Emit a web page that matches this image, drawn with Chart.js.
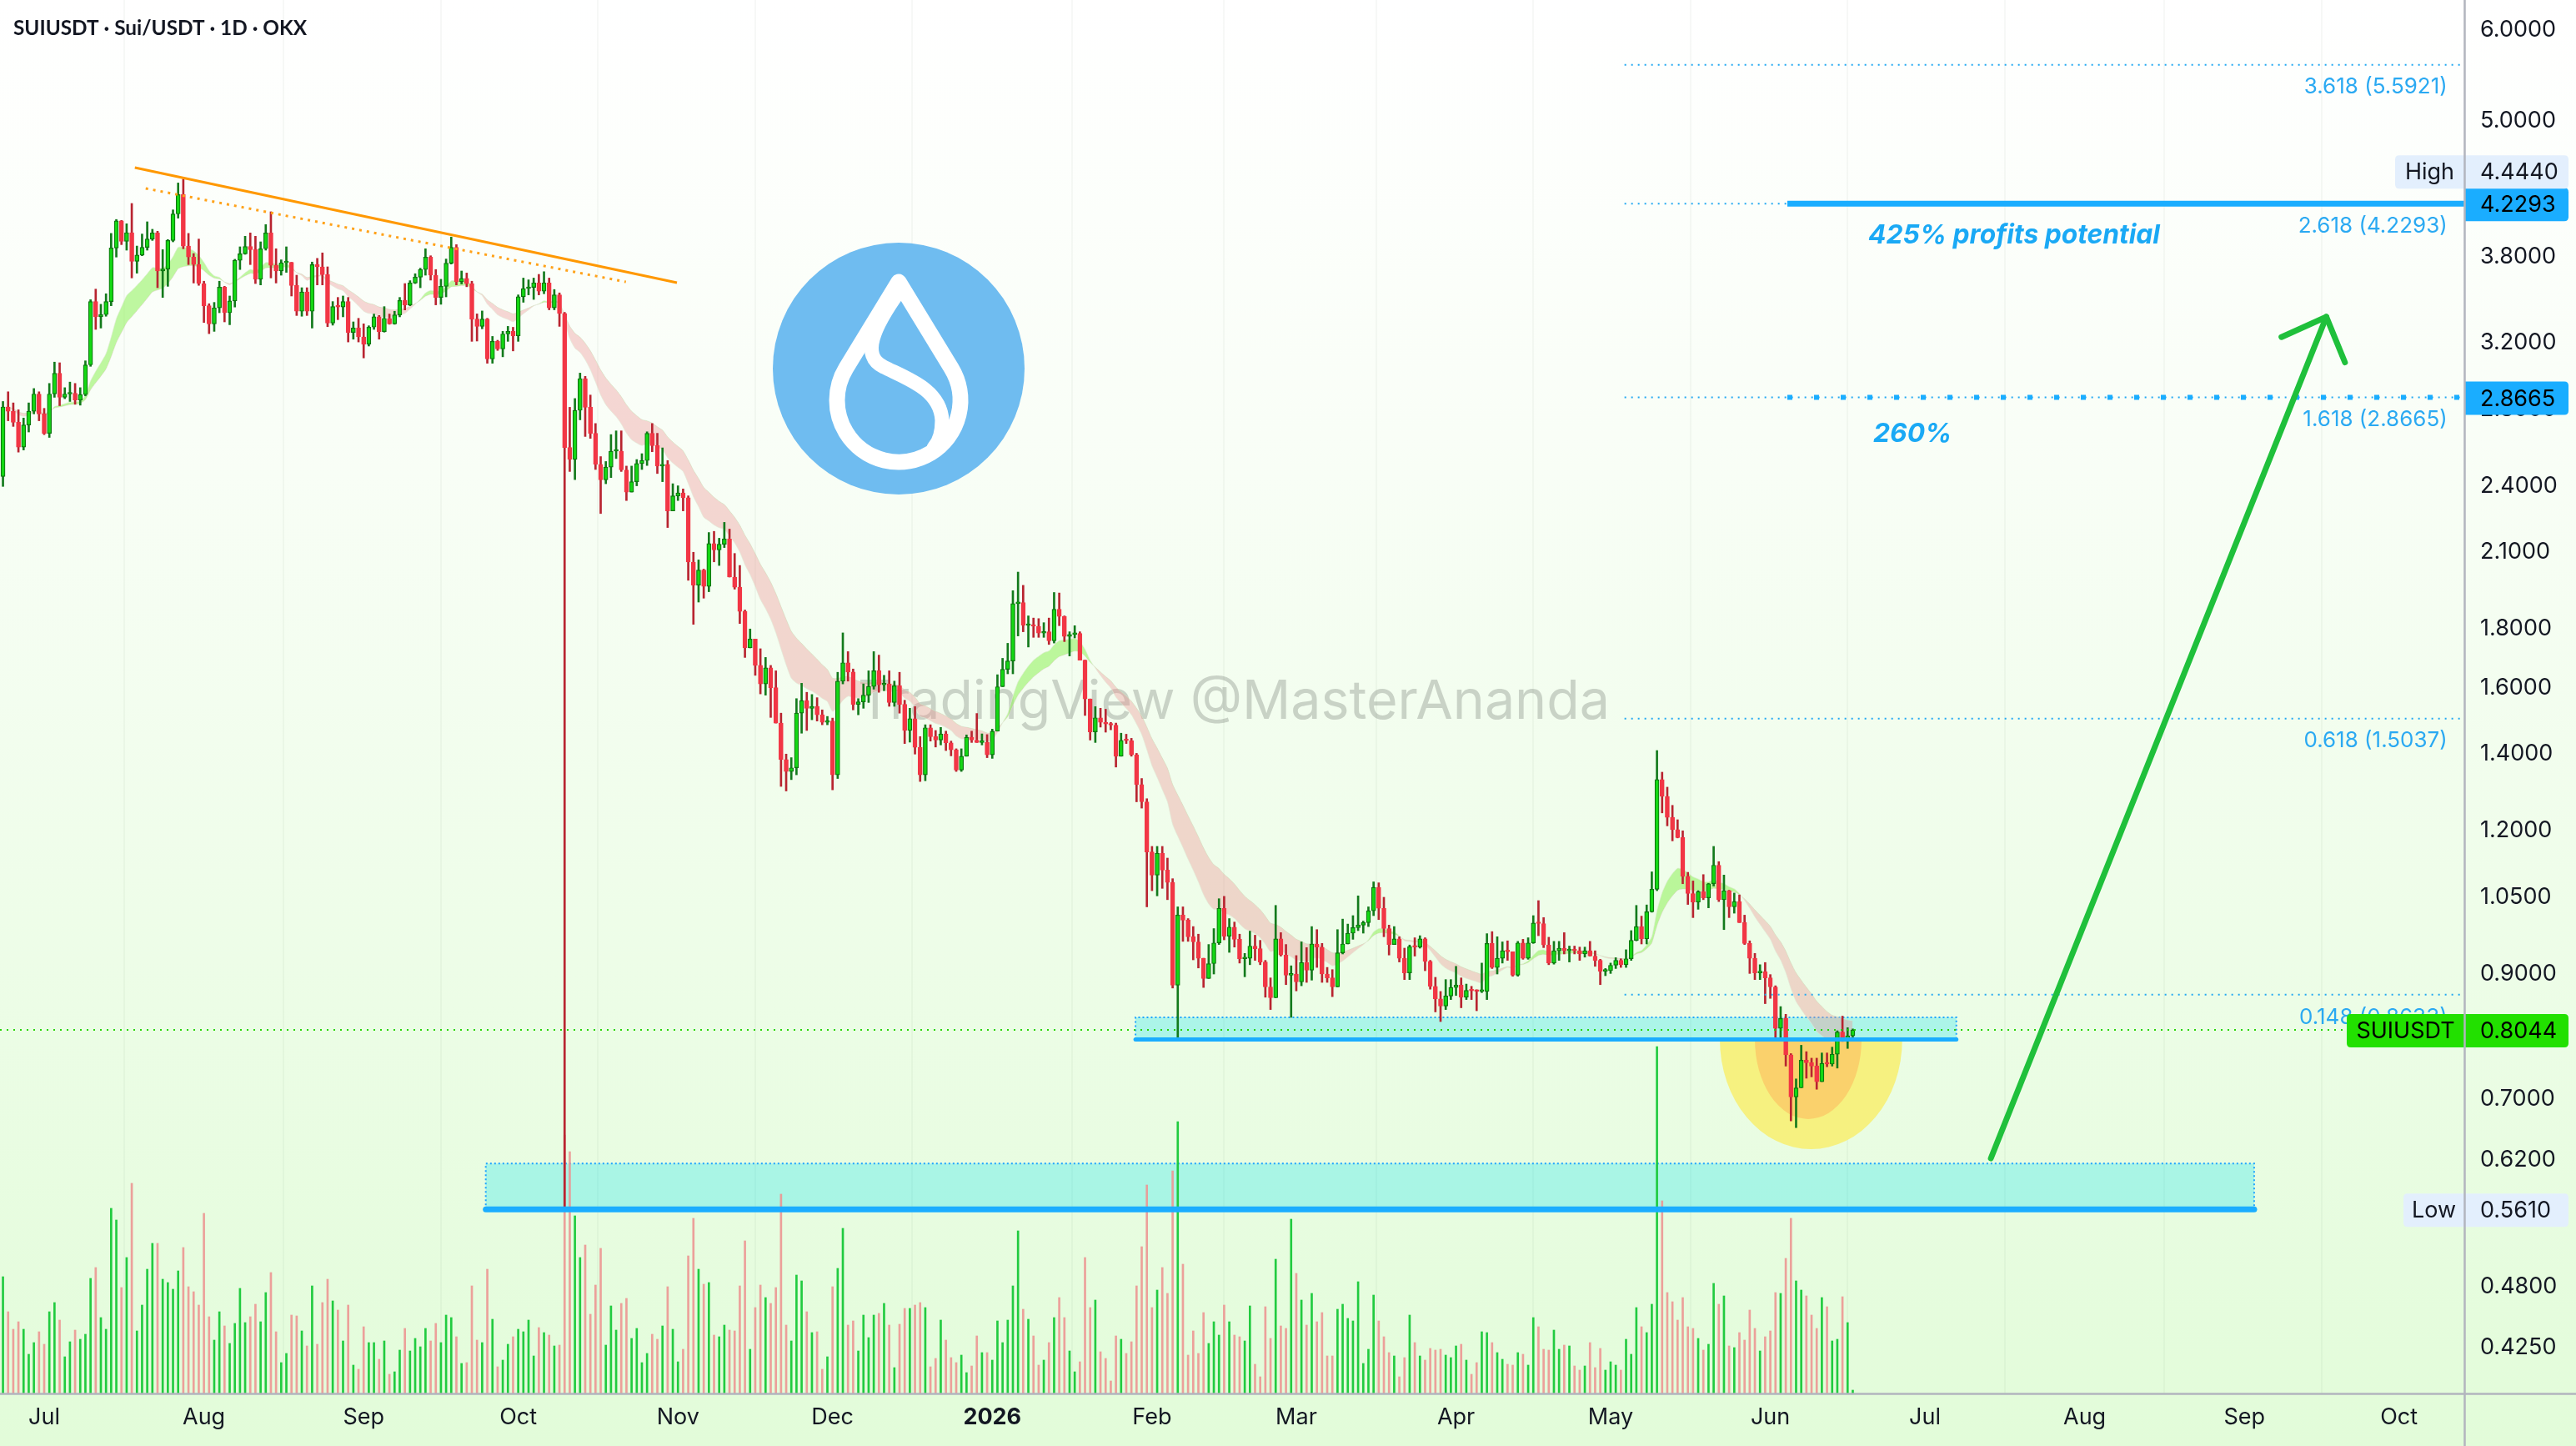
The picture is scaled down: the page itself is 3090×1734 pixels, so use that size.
<!DOCTYPE html>
<html>
<head>
<meta charset="utf-8">
<title>SUIUSDT · Sui/USDT · 1D · OKX</title>
<script src="https://cdn.jsdelivr.net/npm/chart.js@4.4.1/dist/chart.umd.min.js"></script>
<style>
html,body{margin:0;padding:0;overflow:hidden;background:#fff}
canvas{display:block}
</style>
</head>
<body>
<canvas id="chart" width="3090" height="1734" style="width:3090px;height:1734px"></canvas>
<script>
// ================= DATA =================
// day index 0 = 2025-07-01; first candle is 2025-06-23
const firstDay = -8;

const opens = [
2.445,2.812,2.788,2.727,2.594,2.712,2.788,2.886,2.773,2.667,
2.886,3.009,2.867,2.886,2.890,2.851,2.883,3.060,3.475,3.370,
3.385,3.475,3.870,4.086,3.922,3.991,3.768,3.815,3.875,3.940,
3.989,3.695,3.710,3.929,4.144,4.308,3.885,3.800,3.743,3.603,
3.446,3.323,3.431,3.577,3.398,3.479,3.775,3.825,3.881,3.857,
3.634,3.864,3.989,3.737,3.695,3.757,3.760,3.589,3.408,3.543,
3.408,3.743,3.726,3.668,3.328,3.440,3.437,3.475,3.266,3.295,
3.237,3.190,3.301,3.370,3.271,3.360,3.323,3.383,3.483,3.452,
3.607,3.650,3.706,3.800,3.664,3.504,3.583,3.753,3.875,3.616,
3.640,3.602,3.355,3.306,3.355,3.097,3.208,3.160,3.256,3.273,
3.244,3.509,3.567,3.575,3.608,3.549,3.608,3.431,3.522,3.393,
2.592,2.531,2.793,2.977,2.810,2.667,2.506,2.429,2.492,2.573,
2.573,2.478,2.370,2.420,2.510,2.525,2.667,2.602,2.497,2.506,
2.282,2.352,2.366,2.343,2.059,1.966,2.026,1.961,2.137,2.110,
2.134,2.157,1.998,1.958,1.865,1.733,1.764,1.673,1.612,1.665,
1.600,1.490,1.385,1.352,1.362,1.520,1.559,1.535,1.541,1.515,
1.492,1.496,1.343,1.621,1.682,1.651,1.547,1.555,1.576,1.604,
1.655,1.609,1.612,1.553,1.606,1.547,1.468,1.503,1.419,1.343,
1.476,1.450,1.440,1.458,1.432,1.412,1.356,1.394,1.448,1.440,
1.433,1.433,1.398,1.466,1.603,1.660,1.688,1.894,1.898,1.813,
1.815,1.810,1.785,1.790,1.758,1.873,1.846,1.773,1.780,1.784,
1.691,1.564,1.464,1.506,1.492,1.487,1.484,1.394,1.439,1.438,
1.398,1.317,1.272,1.150,1.098,1.147,1.109,1.082,0.880,1.013,
1.003,0.970,0.960,0.929,0.892,0.919,0.958,1.027,0.971,0.989,
0.965,0.928,0.929,0.952,0.947,0.922,0.877,0.858,0.966,0.935,
0.898,0.900,0.886,0.921,0.907,0.956,0.950,0.900,0.893,0.877,
0.939,0.956,0.977,0.988,0.993,0.998,1.022,1.071,1.027,0.986,
0.955,0.966,0.929,0.902,0.951,0.950,0.966,0.923,0.878,0.856,
0.844,0.861,0.876,0.880,0.859,0.871,0.870,0.869,0.869,0.957,
0.912,0.929,0.943,0.941,0.898,0.958,0.929,0.958,0.997,0.996,
0.954,0.920,0.943,0.948,0.943,0.946,0.943,0.937,0.943,0.933,
0.925,0.905,0.906,0.916,0.925,0.917,0.928,0.963,0.990,0.966,
1.020,1.067,1.330,1.286,1.233,1.203,1.184,1.095,1.058,1.040,
1.062,1.049,1.079,1.120,1.045,1.064,1.030,1.041,0.998,0.957,
0.929,0.902,0.904,0.893,0.877,0.807,0.823,0.765,0.703,0.716,
0.757,0.753,0.748,0.725,0.752,0.751,0.766,0.801,0.791,0.795
];

const highs = [
2.843,2.899,2.835,2.796,2.750,2.835,2.918,2.899,2.804,2.948,
3.077,3.073,2.923,2.956,2.948,2.923,3.085,3.488,3.563,3.456,
3.530,3.985,4.098,4.090,4.063,4.232,3.885,3.980,4.079,4.018,
4.002,3.857,3.936,4.178,4.410,4.444,3.985,3.827,3.940,3.620,
3.460,3.469,3.620,3.583,3.514,3.783,3.879,3.962,3.989,3.962,
3.918,4.056,4.162,3.864,3.779,3.879,3.760,3.664,3.573,3.573,
3.762,3.790,3.832,3.726,3.475,3.504,3.514,3.504,3.336,3.360,
3.323,3.310,3.389,3.379,3.440,3.389,3.408,3.504,3.603,3.624,
3.675,3.716,3.864,3.810,3.706,3.634,3.785,3.956,3.896,3.695,
3.680,3.620,3.390,3.410,3.360,3.240,3.215,3.273,3.306,3.300,
3.522,3.643,3.630,3.643,3.670,3.690,3.643,3.560,3.536,3.400,
2.810,2.860,3.010,2.990,2.880,2.720,2.545,2.520,2.660,2.680,
2.680,2.497,2.497,2.530,2.560,2.675,2.720,2.667,2.590,2.525,
2.410,2.400,2.385,2.352,2.100,2.068,2.030,2.185,2.190,2.160,
2.230,2.200,2.095,2.045,1.870,1.800,1.764,1.730,1.700,1.673,
1.655,1.520,1.400,1.390,1.565,1.614,1.585,1.578,1.568,1.530,
1.510,1.505,1.650,1.786,1.720,1.661,1.565,1.612,1.655,1.720,
1.708,1.640,1.655,1.621,1.650,1.560,1.535,1.540,1.450,1.485,
1.485,1.468,1.477,1.466,1.437,1.415,1.415,1.455,1.466,1.519,
1.458,1.456,1.472,1.642,1.697,1.749,1.944,2.018,1.965,1.848,
1.840,1.838,1.823,1.840,1.937,1.935,1.848,1.790,1.812,1.790,
1.691,1.564,1.540,1.535,1.532,1.492,1.490,1.460,1.457,1.445,
1.402,1.333,1.280,1.163,1.163,1.163,1.136,1.090,1.030,1.030,
1.006,0.990,0.975,0.929,0.955,0.986,1.047,1.052,1.006,0.999,
0.975,0.938,0.981,0.973,0.963,0.925,0.893,1.033,0.978,0.955,
0.915,0.934,0.960,0.949,0.990,0.984,0.957,0.912,0.908,0.984,
1.005,0.995,1.012,1.053,1.001,1.030,1.083,1.081,1.050,0.993,
0.990,0.970,0.948,0.954,0.968,0.972,0.968,0.925,0.894,0.869,
0.890,0.890,0.914,0.893,0.882,0.878,0.872,0.920,0.976,0.980,
0.970,0.960,0.962,0.941,0.961,0.965,0.968,1.012,1.043,1.008,
0.969,0.961,0.961,0.978,0.952,0.952,0.950,0.950,0.961,0.943,
0.927,0.910,0.920,0.930,0.928,0.945,0.982,1.033,1.011,1.034,
1.105,1.410,1.350,1.310,1.263,1.227,1.200,1.104,1.085,1.064,
1.099,1.080,1.163,1.128,1.098,1.065,1.059,1.055,1.013,0.962,
0.938,0.917,0.921,0.899,0.879,0.843,0.830,0.767,0.729,0.780,
0.770,0.760,0.760,0.768,0.768,0.777,0.803,0.827,0.808,0.806
];

const lows = [
2.397,2.735,2.704,2.568,2.579,2.674,2.773,2.735,2.660,2.645,
2.867,2.819,2.859,2.843,2.827,2.822,2.875,3.051,3.286,3.295,
3.374,3.446,3.800,3.896,3.853,3.644,3.679,3.810,3.853,3.929,
3.573,3.504,3.583,3.918,4.109,3.864,3.743,3.607,3.590,3.332,
3.258,3.273,3.398,3.336,3.317,3.437,3.706,3.821,3.743,3.603,
3.593,3.853,3.644,3.607,3.664,3.685,3.514,3.379,3.374,3.379,
3.295,3.593,3.593,3.304,3.314,3.351,3.370,3.204,3.222,3.204,
3.103,3.178,3.286,3.222,3.268,3.320,3.320,3.370,3.417,3.446,
3.603,3.573,3.664,3.628,3.452,3.456,3.508,3.747,3.593,3.600,
3.580,3.208,3.210,3.290,3.070,3.070,3.150,3.110,3.208,3.147,
3.208,3.470,3.522,3.490,3.522,3.530,3.418,3.418,3.306,0.561,
2.470,2.430,2.740,2.650,2.640,2.480,2.270,2.410,2.440,2.535,
2.470,2.330,2.370,2.400,2.480,2.500,2.570,2.460,2.420,2.207,
2.282,2.330,2.282,1.985,1.817,1.900,1.915,1.940,2.060,2.045,
2.120,1.998,1.950,1.820,1.700,1.733,1.640,1.580,1.576,1.507,
1.490,1.312,1.300,1.330,1.343,1.460,1.468,1.500,1.496,1.485,
1.485,1.303,1.333,1.612,1.621,1.530,1.515,1.535,1.553,1.595,
1.585,1.590,1.541,1.541,1.520,1.430,1.434,1.400,1.325,1.327,
1.437,1.420,1.426,1.410,1.395,1.352,1.352,1.394,1.433,1.433,
1.426,1.390,1.388,1.466,1.603,1.645,1.645,1.775,1.790,1.736,
1.770,1.770,1.770,1.745,1.750,1.812,1.755,1.705,1.768,1.691,
1.513,1.440,1.433,1.478,1.463,1.470,1.364,1.394,1.430,1.394,
1.272,1.256,1.030,1.064,1.053,1.069,1.045,0.875,0.788,0.961,
0.961,0.926,0.911,0.876,0.892,0.900,0.955,0.964,0.940,0.950,
0.920,0.895,0.917,0.925,0.917,0.859,0.838,0.858,0.933,0.881,
0.825,0.870,0.879,0.885,0.889,0.912,0.885,0.885,0.860,0.877,
0.937,0.956,0.965,0.982,0.977,0.990,1.012,1.004,0.970,0.935,
0.955,0.922,0.890,0.890,0.933,0.948,0.906,0.873,0.834,0.818,
0.838,0.855,0.862,0.841,0.855,0.855,0.836,0.867,0.855,0.910,
0.900,0.920,0.925,0.896,0.896,0.927,0.927,0.957,0.972,0.949,
0.917,0.918,0.925,0.937,0.922,0.937,0.925,0.931,0.933,0.914,
0.881,0.897,0.901,0.910,0.912,0.912,0.925,0.962,0.956,0.956,
1.019,1.064,1.244,1.212,1.176,1.183,1.079,1.035,1.008,1.025,
1.045,1.028,1.074,1.041,0.984,1.008,1.017,0.998,0.955,0.901,
0.890,0.890,0.848,0.857,0.788,0.788,0.748,0.670,0.661,0.716,
0.730,0.732,0.714,0.725,0.747,0.748,0.745,0.786,0.775,0.790
];

const closes = [
2.812,2.788,2.727,2.594,2.712,2.788,2.886,2.773,2.667,2.886,
3.009,2.867,2.886,2.890,2.851,2.883,3.060,3.475,3.370,3.385,
3.475,3.870,4.086,3.922,3.991,3.768,3.815,3.875,3.940,3.989,
3.695,3.710,3.929,4.144,4.308,3.885,3.800,3.743,3.603,3.446,
3.323,3.431,3.577,3.398,3.479,3.775,3.825,3.881,3.857,3.634,
3.864,3.989,3.737,3.695,3.757,3.760,3.589,3.408,3.543,3.408,
3.743,3.726,3.668,3.328,3.440,3.437,3.475,3.266,3.295,3.237,
3.190,3.301,3.370,3.271,3.360,3.323,3.383,3.483,3.452,3.607,
3.650,3.706,3.800,3.664,3.504,3.583,3.753,3.875,3.616,3.640,
3.602,3.355,3.306,3.355,3.097,3.208,3.160,3.256,3.273,3.244,
3.509,3.567,3.575,3.608,3.549,3.608,3.431,3.522,3.393,2.592,
2.531,2.793,2.977,2.810,2.667,2.506,2.429,2.492,2.573,2.573,
2.478,2.370,2.420,2.510,2.525,2.667,2.602,2.497,2.506,2.282,
2.352,2.366,2.343,2.059,1.966,2.026,1.961,2.137,2.110,2.134,
2.157,1.998,1.958,1.865,1.733,1.764,1.673,1.612,1.665,1.600,
1.490,1.385,1.352,1.362,1.520,1.559,1.535,1.541,1.515,1.492,
1.496,1.343,1.621,1.682,1.651,1.547,1.555,1.576,1.604,1.655,
1.609,1.612,1.553,1.606,1.547,1.468,1.503,1.419,1.343,1.476,
1.450,1.440,1.458,1.432,1.412,1.356,1.394,1.448,1.440,1.433,
1.433,1.398,1.466,1.603,1.660,1.688,1.894,1.898,1.813,1.815,
1.810,1.785,1.790,1.758,1.873,1.846,1.773,1.780,1.784,1.691,
1.564,1.464,1.506,1.492,1.487,1.484,1.394,1.439,1.438,1.398,
1.317,1.272,1.150,1.098,1.147,1.109,1.082,0.880,1.013,1.003,
0.970,0.960,0.929,0.892,0.919,0.958,1.027,0.971,0.989,0.965,
0.928,0.929,0.952,0.947,0.922,0.877,0.858,0.966,0.935,0.898,
0.900,0.886,0.921,0.907,0.956,0.950,0.900,0.893,0.877,0.939,
0.956,0.977,0.988,0.993,0.998,1.022,1.071,1.027,0.986,0.955,
0.966,0.929,0.902,0.951,0.950,0.966,0.923,0.878,0.856,0.844,
0.861,0.876,0.880,0.859,0.871,0.870,0.869,0.869,0.957,0.912,
0.929,0.943,0.941,0.898,0.958,0.929,0.958,0.997,0.996,0.954,
0.920,0.943,0.948,0.943,0.946,0.943,0.937,0.943,0.933,0.925,
0.905,0.906,0.916,0.925,0.917,0.928,0.963,0.990,0.966,1.020,
1.067,1.330,1.286,1.233,1.203,1.184,1.095,1.058,1.040,1.062,
1.049,1.079,1.120,1.045,1.064,1.030,1.041,0.998,0.957,0.929,
0.902,0.904,0.893,0.877,0.807,0.823,0.765,0.703,0.716,0.757,
0.753,0.748,0.725,0.752,0.751,0.766,0.801,0.791,0.795,0.8044
];

const volumes = [
140,98,77,86,77,47,61,74,59,98,
109,88,44,62,76,65,71,138,151,91,
77,222,208,127,163,252,75,106,149,180,
180,137,133,125,147,175,128,122,106,216,
92,64,98,81,60,84,126,85,92,107,
86,121,145,74,37,48,94,93,75,57,
129,59,109,137,111,100,63,106,34,29,
80,61,61,41,63,23,26,52,78,51,
66,56,78,63,84,61,94,91,68,36,
37,129,64,61,149,89,32,40,59,68,
77,74,88,45,79,73,70,57,58,310,
290,213,163,178,95,130,174,58,105,76,
108,114,66,78,37,48,71,65,81,128,
77,38,53,165,210,149,131,133,70,68,
82,76,75,129,183,53,103,130,115,108,
127,239,82,63,142,135,98,73,74,29,
44,128,150,198,82,87,51,94,67,94,
96,108,82,31,83,102,102,106,109,103,
32,42,88,64,43,37,46,25,33,69,
49,49,40,87,61,88,129,195,101,89,
69,34,40,61,91,115,91,51,26,38,
163,103,112,50,42,15,69,65,48,62,
129,176,250,103,124,151,120,267,326,155,
46,75,48,97,60,86,70,106,86,70,
68,63,105,35,20,104,66,161,81,78,
209,144,112,82,120,86,97,45,45,101,
107,90,87,134,36,53,118,87,68,49,
45,20,43,94,61,45,40,54,52,53,
46,43,57,59,40,23,37,74,73,61,
49,41,35,34,49,47,34,91,80,53,
52,76,53,58,57,33,28,33,61,31,
54,28,38,34,28,65,47,103,80,73,
107,416,231,121,110,88,115,80,78,66,
52,59,132,107,117,57,55,73,64,100,
78,51,68,75,121,120,162,210,135,124,
117,94,78,115,104,63,65,116,85,4
];

const monthTicks  = [0,31,62,92,123,153,184,215,243,274,304,335,365,396,427,457];
const monthLabels = ['Jul','Aug','Sep','Oct','Nov','Dec','2026','Feb','Mar','Apr','May','Jun','Jul','Aug','Sep','Oct'];
const yearTick = 184;
const priceTicks = [6,5,3.8,3.2,2.8,2.4,2.1,1.8,1.6,1.4,1.2,1.05,0.9,0.7,0.62,0.55,0.48,0.425];
const fibRatios = [3.618,2.618,1.618,0.618,0.148];
const fibPrices = [5.5921,4.2293,2.8665,1.5037,0.8633];
const highPrice = 4.4440, lowPrice = 0.5610, lastPrice = 0.8044;
const symbol = 'SUIUSDT';
const titleText = 'SUIUSDT · Sui/USDT · 1D · OKX';

// ================= VIEW / ANNOTATIONS (data coordinates) =================
const X_MIN = -8.575, X_MAX = 469.68;
const Y_MIN = 0.3875, Y_MAX = 6.369;
const VOL_MAX = 1671;
const fibStartDay = 306.7, fibLabelDay = 466.4;
const targetLineDay = 338.3;
const zones = [
  {d0: 85.7,  d1: 428.9, top: 0.615, bottom: 0.561, line: 7},
  {d0: 211.8, d1: 371.1, top: 0.825, bottom: 0.789, line: 5}
];
const bowls = [
  {d0: 325.2, d1: 360.6, top: 0.789, bottom: 0.633, color: 'rgb(246,241,128)'},
  {d0: 332.0, d1: 352.7, top: 0.789, bottom: 0.6725, color: 'rgb(250,209,108)'}
];
const trendSolid  = [[17.6, 4.548], [122.8, 3.609]];
const trendDotted = [[19.7, 4.362], [112.9, 3.615]];
const arrowLine = [[377.8, 0.6215], [442.9, 3.370]];
const noteBig = {text: '425% profits potential', d: 382.3, p: 3.971};
const noteSmall = {text: '260%', d: 362.6, p: 2.665};

// ================= COLORS =================
const UP_FILL = '#14d814', UP_EDGE = '#0d760f', UP_WICK = '#137a1c';
const DN_FILL = '#f23645', DN_WICK = '#b82430';
const VOL_UP = 'rgba(22,200,55,0.95)', VOL_DN = 'rgba(236,150,146,0.9)';
const BLUE = '#1aadff', FIB_BLUE = '#22a8f2', TXT = '#131722';
const AXIS_FONT = 'Inter, "Noto Sans", sans-serif';
const TITLE_FONT = '"Liberation Sans Narrow", Lato, sans-serif';

// ================= BUILD =================
const days = closes.map((_, i) => firstDay + i);
const isUp = closes.map((c, i) => c >= opens[i]);
function ema(src, n) { const k = 2 / (n + 1); let e = src[0]; return src.map(v => (e = e + k * (v - e))); }
const emaFast = ema(closes, 13), emaSlow = ema(closes, 21);

Chart.defaults.font.family = AXIS_FONT;
Chart.defaults.color = TXT;

function fitSize(c, text, style, family, targetW, base) {
  c.font = `${style} ${base}px ${family}`;
  return base * targetW / c.measureText(text).width;
}

function drawLogo(c, cx, cy, r) {
  c.save();
  c.fillStyle = '#6fbcf0';
  c.beginPath(); c.arc(cx, cy, r, 0, Math.PI * 2); c.fill();
  const s = r / 151;
  c.strokeStyle = '#ffffff'; c.lineWidth = 19 * s; c.lineJoin = 'round'; c.lineCap = 'round';
  const tipY = cy - 104 * s, ccY = cy + 38 * s, rr = 74 * s;
  const a = Math.acos(rr / (ccY - tipY));
  const aR = -Math.PI / 2 + a, aL = -Math.PI / 2 - a;
  c.beginPath();
  c.moveTo(cx, tipY);
  c.lineTo(cx + rr * Math.cos(aR), ccY + rr * Math.sin(aR));
  c.arc(cx, ccY, rr, aR, aL + Math.PI * 2, false);
  c.closePath();
  c.stroke();
  c.lineWidth = 17 * s;
  c.beginPath();
  c.moveTo(cx, cy - 92 * s);
  c.bezierCurveTo(cx - 30 * s, cy - 50 * s, cx - 46 * s, cy - 15 * s, cx - 18 * s, cy - 2 * s);
  c.bezierCurveTo(cx + 10 * s, cy + 12 * s, cx + 50 * s, cy + 25 * s, cx + 52 * s, cy + 62 * s);
  c.quadraticCurveTo(cx + 52 * s, cy + 84 * s, cx + 42 * s, cy + 95 * s);
  c.stroke();
  c.restore();
}

function roundBox(c, x, y, w, h, rL, rR) {
  c.beginPath();
  c.moveTo(x + rL, y);
  c.lineTo(x + w - rR, y); c.quadraticCurveTo(x + w, y, x + w, y + rR);
  c.lineTo(x + w, y + h - rR); c.quadraticCurveTo(x + w, y + h, x + w - rR, y + h);
  c.lineTo(x + rL, y + h); c.quadraticCurveTo(x, y + h, x, y + h - rL);
  c.lineTo(x, y + rL); c.quadraticCurveTo(x, y, x + rL, y);
  c.closePath();
}

const overlay = {
  id: 'overlay',
  beforeDraw(chart) {
    const c = chart.ctx;
    c.save();
    const g = c.createLinearGradient(0, 0, 0, chart.height);
    g.addColorStop(0, '#ffffff');
    g.addColorStop(0.3, '#f9fef7');
    g.addColorStop(1, '#e2fcd9');
    c.fillStyle = g;
    c.fillRect(0, 0, chart.width, chart.height);
    c.restore();
  },
  beforeDatasetsDraw(chart) {
    const c = chart.ctx, a = chart.chartArea;
    const X = v => chart.scales.x.getPixelForValue(v), Y = v => chart.scales.y.getPixelForValue(v);
    c.save();
    c.beginPath(); c.rect(a.left, a.top, a.right - a.left, a.bottom - a.top); c.clip();
    const wm = 'TradingView @MasterAnanda';
    const ws = fitSize(c, wm, 'normal', 'Inter', 902, 66);
    c.font = `normal ${ws}px Inter`;
    c.fillStyle = 'rgba(95,100,95,0.28)';
    c.textAlign = 'center'; c.textBaseline = 'alphabetic';
    c.fillText(wm, 1480, 862);
    drawLogo(c, 1078, 442, 151);
    zones.forEach(z => {
      const x0 = X(z.d0), x1 = X(z.d1), yt = Y(z.top), yb = Y(z.bottom);
      c.fillStyle = 'rgba(0,226,240,0.27)';
      c.fillRect(x0, yt, x1 - x0, yb - yt);
      c.strokeStyle = '#1ea4ff'; c.lineWidth = 2; c.setLineDash([2, 3]);
      c.beginPath();
      c.moveTo(x0, yb); c.lineTo(x0, yt); c.lineTo(x1, yt); c.lineTo(x1, yb);
      c.stroke();
      c.setLineDash([]);
    });
    bowls.forEach(b => {
      const x0 = X(b.d0), x1 = X(b.d1), yt = Y(b.top), yb = Y(b.bottom);
      c.fillStyle = b.color;
      c.beginPath();
      c.ellipse((x0 + x1) / 2, yt, (x1 - x0) / 2, yb - yt, 0, 0, Math.PI, false);
      c.closePath(); c.fill();
    });
    c.restore();
  },
  afterDatasetsDraw(chart) {
    const c = chart.ctx, a = chart.chartArea;
    const X = v => chart.scales.x.getPixelForValue(v), Y = v => chart.scales.y.getPixelForValue(v);
    c.save();
    c.beginPath(); c.rect(a.left, a.top, a.right - a.left, a.bottom - a.top); c.clip();
    zones.forEach(z => {
      c.strokeStyle = BLUE; c.lineWidth = z.line; c.lineCap = 'round';
      c.beginPath(); c.moveTo(X(z.d0), Y(z.bottom)); c.lineTo(X(z.d1), Y(z.bottom)); c.stroke();
    });
    c.lineCap = 'butt';
    c.strokeStyle = '#ff9800'; c.lineWidth = 3;
    c.beginPath(); c.moveTo(X(trendSolid[0][0]), Y(trendSolid[0][1])); c.lineTo(X(trendSolid[1][0]), Y(trendSolid[1][1])); c.stroke();
    c.strokeStyle = '#ffa21a'; c.lineWidth = 3; c.setLineDash([3, 6]);
    c.beginPath(); c.moveTo(X(trendDotted[0][0]), Y(trendDotted[0][1])); c.lineTo(X(trendDotted[1][0]), Y(trendDotted[1][1])); c.stroke();
    c.strokeStyle = '#25d400'; c.lineWidth = 2; c.setLineDash([2, 6]);
    c.beginPath(); c.moveTo(a.left, Y(lastPrice)); c.lineTo(a.right, Y(lastPrice)); c.stroke();
    const fs = fitSize(c, '3.618 (5.5921)', 'normal', 'Inter', 172, 25);
    fibRatios.forEach((r, k) => {
      const y = Y(fibPrices[k]);
      c.strokeStyle = FIB_BLUE; c.lineWidth = 2; c.setLineDash([2, 6]);
      c.beginPath(); c.moveTo(X(fibStartDay), y); c.lineTo(a.right, y); c.stroke();
      c.setLineDash([]);
      c.font = `normal ${fs}px Inter`; c.fillStyle = '#2aa9f2';
      c.textAlign = 'right'; c.textBaseline = 'middle';
      c.fillText(`${r.toFixed(3)} (${fibPrices[k].toFixed(4)})`, X(fibLabelDay), y + 27);
    });
    c.setLineDash([]);
    c.strokeStyle = BLUE; c.lineWidth = 7;
    c.beginPath(); c.moveTo(X(targetLineDay), Y(fibPrices[1])); c.lineTo(a.right, Y(fibPrices[1])); c.stroke();
    c.lineWidth = 6; c.setLineDash([6, 26]);
    c.beginPath(); c.moveTo(X(targetLineDay), Y(fibPrices[2])); c.lineTo(a.right, Y(fibPrices[2])); c.stroke();
    c.setLineDash([]);
    const ns = fitSize(c, noteBig.text, 'italic 700', 'Inter', 350, 30);
    c.font = `italic 700 ${ns}px Inter`; c.fillStyle = '#1aa9f5';
    c.textAlign = 'center'; c.textBaseline = 'middle';
    c.fillText(noteBig.text, X(noteBig.d), Y(noteBig.p));
    c.fillText(noteSmall.text, X(noteSmall.d), Y(noteSmall.p));
    const sx = X(arrowLine[0][0]), sy = Y(arrowLine[0][1]), tx = X(arrowLine[1][0]), ty = Y(arrowLine[1][1]);
    const back = Math.atan2(sy - ty, sx - tx), spread = 44 * Math.PI / 180, L = 59;
    c.strokeStyle = '#1fc03b'; c.lineWidth = 7; c.lineCap = 'round'; c.lineJoin = 'round';
    c.beginPath(); c.moveTo(sx, sy); c.lineTo(tx, ty); c.stroke();
    c.beginPath();
    c.moveTo(tx + L * Math.cos(back + spread), ty + L * Math.sin(back + spread));
    c.lineTo(tx, ty);
    c.lineTo(tx + L * Math.cos(back - spread), ty + L * Math.sin(back - spread));
    c.stroke();
    c.restore();
  },
  afterDraw(chart) {
    const c = chart.ctx, a = chart.chartArea;
    const Y = v => chart.scales.y.getPixelForValue(v);
    c.save();
    const axX = a.right, boxR = 3081, H = 40, fsz = 27;
    const valX = 2975;
    function label(p, bg, fg, name, leftX, yc) {
      const y0 = yc - H / 2;
      c.fillStyle = bg;
      roundBox(c, name ? leftX : axX, y0, boxR - (name ? leftX : axX), H, name ? 5 : 0, 5);
      c.fill();
      c.font = `normal ${fsz}px ${AXIS_FONT}`; c.fillStyle = fg; c.textBaseline = 'middle';
      c.textAlign = 'left'; c.fillText(p.toFixed(4), valX, yc + 1);
      if (name) { c.textAlign = 'center'; c.fillText(name, (leftX + axX) / 2, yc + 1); }
    }
    const yT = Y(fibPrices[1]) + 1;
    label(fibPrices[1], BLUE, '#000', null, 0, yT);
    label(fibPrices[2], BLUE, '#000', null, 0, Y(fibPrices[2]) + 1);
    label(highPrice, '#e3effd', TXT, 'High', 2873, Math.min(Y(highPrice) + 1, yT - H + 1));
    label(lowPrice, '#e3effd', TXT, 'Low', 2883, Y(lowPrice) + 1);
    label(lastPrice, '#22e000', '#000', symbol, 2815, Y(lastPrice) + 1);
    c.strokeStyle = '#b2b5be'; c.lineWidth = 2.5;
    c.beginPath(); c.moveTo(axX + 0.5, 0); c.lineTo(axX + 0.5, chart.height); c.stroke();
    c.beginPath(); c.moveTo(0, a.bottom + 0.5); c.lineTo(chart.width, a.bottom + 0.5); c.stroke();
    const ts = fitSize(c, titleText, '700', TITLE_FONT, 352, 26);
    c.font = `700 ${ts}px ${TITLE_FONT}`; c.fillStyle = TXT; c.textAlign = 'left'; c.textBaseline = 'alphabetic';
    c.fillText(titleText, 16, 42);
    c.restore();
  }
};

const datasets = [
  {
    type: 'bar', label: 'body', order: 1, xAxisID: 'x', yAxisID: 'y',
    data: days.map((d, i) => ({x: d, y: [opens[i], closes[i]]})),
    backgroundColor: isUp.map(u => u ? UP_FILL : DN_FILL),
    borderColor: isUp.map(u => u ? UP_EDGE : DN_FILL),
    borderWidth: 1.2, borderSkipped: false, barThickness: 5, grouped: false, minBarLength: 2
  },
  {
    type: 'bar', label: 'wick', order: 2, xAxisID: 'x', yAxisID: 'y',
    data: days.map((d, i) => ({x: d, y: [lows[i], highs[i]]})),
    backgroundColor: isUp.map(u => u ? UP_WICK : DN_WICK),
    borderWidth: 0, barThickness: 2, grouped: false
  },
  {
    type: 'line', label: 'ema13', order: 3, xAxisID: 'x', yAxisID: 'y',
    data: days.map((d, i) => ({x: d, y: emaFast[i]})),
    borderColor: 'rgba(225,235,215,0.6)', borderWidth: 1, pointRadius: 0, tension: 0.2,
    fill: {target: '+1', above: 'rgba(150,242,100,0.6)', below: 'rgba(236,150,150,0.38)'}
  },
  {
    type: 'line', label: 'ema21', order: 4, xAxisID: 'x', yAxisID: 'y',
    data: days.map((d, i) => ({x: d, y: emaSlow[i]})),
    borderColor: 'rgba(225,225,215,0.6)', borderWidth: 1, pointRadius: 0, tension: 0.2, fill: false
  },
  {
    type: 'bar', label: 'volume', order: 6, xAxisID: 'x', yAxisID: 'yv',
    data: days.map((d, i) => ({x: d, y: volumes[i]})),
    backgroundColor: isUp.map(u => u ? VOL_UP : VOL_DN),
    borderWidth: 0, barThickness: 2, grouped: false
  }
];

function zeroPad(s) { s.paddingLeft = 0; s.paddingRight = 0; s.paddingTop = 0; s.paddingBottom = 0; }

new Chart(document.getElementById('chart').getContext('2d'), {
  type: 'bar',
  data: {datasets},
  options: {
    responsive: false, maintainAspectRatio: false, animation: false, devicePixelRatio: 1,
    events: [],
    layout: {padding: 0, autoPadding: false},
    plugins: {legend: {display: false}, tooltip: {enabled: false}, title: {display: false}},
    scales: {
      x: {
        type: 'linear', min: X_MIN, max: X_MAX, offset: false, bounds: 'data',
        grid: {color: 'rgba(40,60,40,0.035)', lineWidth: 2, drawTicks: false},
        border: {display: false},
        ticks: {
          autoSkip: false, maxRotation: 0, minRotation: 0, padding: 13, color: TXT,
          font: ctx => ({size: 27, weight: (ctx.tick && ctx.tick.value === yearTick) ? '700' : '400'}),
          callback: v => { const k = monthTicks.indexOf(v); return k >= 0 ? monthLabels[k] : ''; }
        },
        afterBuildTicks: s => { s.ticks = monthTicks.map(v => ({value: v})); },
        afterFit: s => { s.height = 63; zeroPad(s); }
      },
      y: {
        type: 'logarithmic', position: 'right', min: Y_MIN, max: Y_MAX, bounds: 'data',
        grid: {display: false, drawTicks: false},
        border: {display: false},
        ticks: {padding: 19, color: TXT, font: {size: 27}, autoSkip: false,
                callback: v => Number(v).toFixed(4)},
        afterBuildTicks: s => { s.ticks = priceTicks.map(v => ({value: v})); },
        afterFit: s => { s.width = 134; zeroPad(s); }
      },
      yv: {type: 'linear', display: false, min: 0, max: VOL_MAX}
    }
  },
  plugins: [overlay]
});
</script>
</body>
</html>
